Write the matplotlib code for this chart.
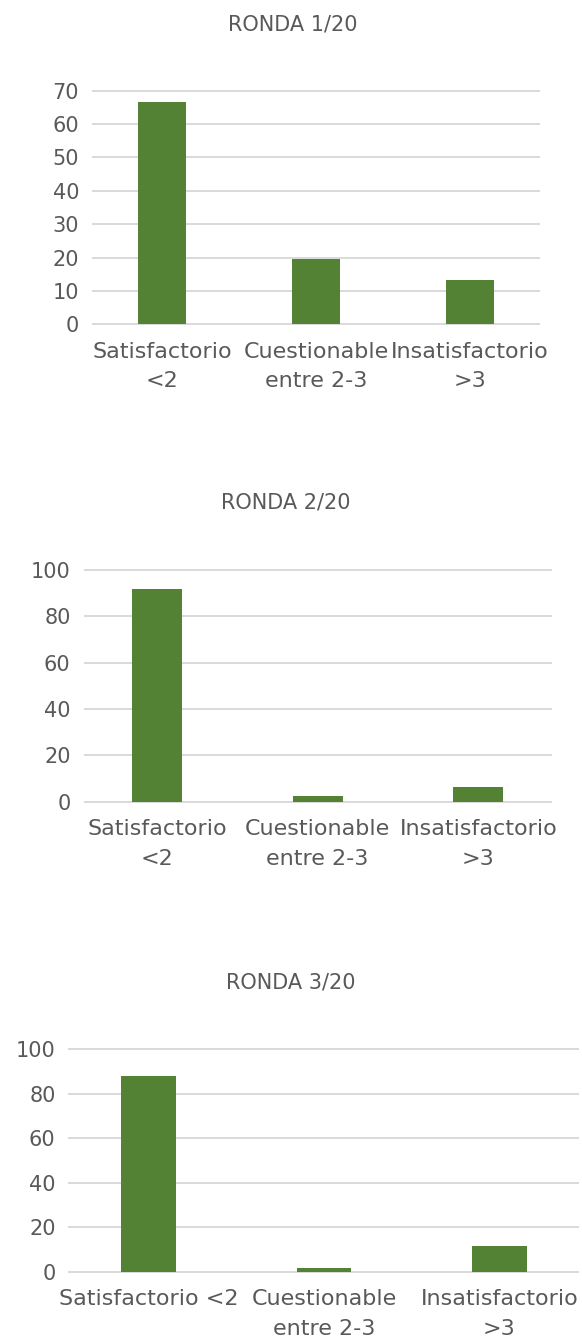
import matplotlib
matplotlib.use("Agg")
import matplotlib.pyplot as plt

# ---- data ----
titles = ["RONDA 1/20", "RONDA 2/20", "RONDA 3/20"]
categories_r1 = ["Satisfactorio\n<2", "Cuestionable\nentre 2-3", "Insatisfactorio\n>3"]
categories_r2 = ["Satisfactorio\n<2", "Cuestionable\nentre 2-3", "Insatisfactorio\n>3"]
categories_r3 = ["Satisfactorio <2", "Cuestionable\nentre 2-3", "Insatisfactorio\n>3"]
ronda1 = [66.7, 19.5, 13.3]
ronda2 = [91.7, 2.5, 6.5]
ronda3 = [87.8, 1.5, 11.5]
yticks_r1 = [0, 10, 20, 30, 40, 50, 60, 70]
yticks_r2 = [0, 20, 40, 60, 80, 100]
yticks_r3 = [0, 20, 40, 60, 80, 100]

W, H = 582, 1342
BAR = "#548235"
GRID = "#d9d9d9"
TXT = "#595959"
plt.rcParams["font.family"] = ["DejaVu Sans"]

fig = plt.figure(figsize=(W / 100, H / 100), dpi=100)

# pixel layout: (left, right, top, bottom) of plot area, title y, title x
layouts = [
    (93, 539, 90.7, 324.3, 25, 293),
    (84.5, 550.7, 570, 801.7, 503, 286),
    (69.4, 578.4, 1049, 1271.7, 983, 291),
]
datasets = [
    (categories_r1, ronda1, yticks_r1),
    (categories_r2, ronda2, yticks_r2),
    (categories_r3, ronda3, yticks_r3),
]

for (l, r, t, b, ty, tx), (cats, vals, yt), title in zip(layouts, datasets, titles):
    ax = fig.add_axes([l / W, 1 - b / H, (r - l) / W, (b - t) / H])
    x = list(range(len(cats)))
    ax.bar(x, vals, width=0.31, color=BAR, zorder=3)
    ax.set_xlim(-0.45, 2.45)
    ax.set_ylim(yt[0], yt[-1])
    ax.set_yticks(yt)
    ax.set_yticklabels([str(v) for v in yt])
    ax.set_xticks(x)
    ax.set_xticklabels(cats, linespacing=1.6)
    for s in ax.spines.values():
        s.set_visible(False)
    ax.yaxis.grid(True, color=GRID, linewidth=1.4, zorder=0)
    ax.set_axisbelow(True)
    ax.tick_params(axis="both", length=0, colors=TXT)
    ax.tick_params(axis="y", labelsize=15, pad=10)
    ax.tick_params(axis="x", labelsize=16, pad=12.5)
    for gl in ax.get_ygridlines():
        gl.set_clip_on(False)
    fig.text(tx / W, 1 - ty / H, title, ha="center", va="center",
             fontsize=15, color=TXT)

fig.savefig("out.png", dpi=100, facecolor="white")
